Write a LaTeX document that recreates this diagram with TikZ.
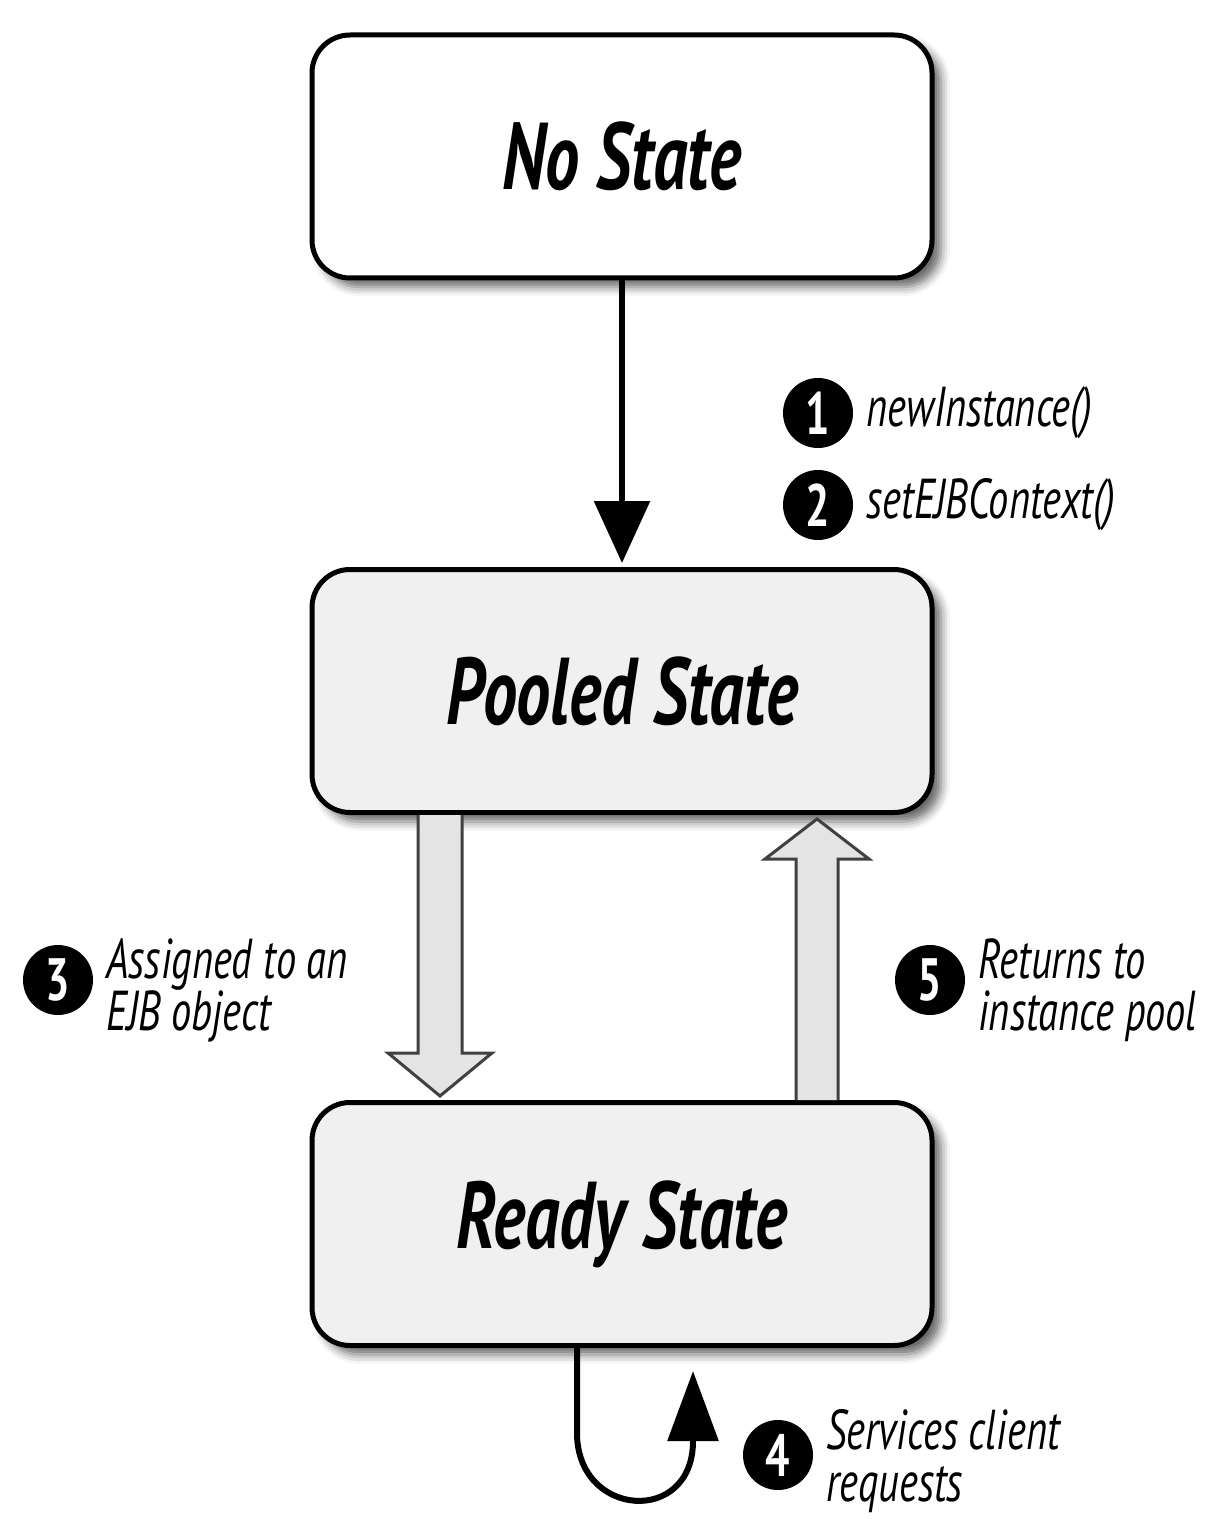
\documentclass[tikz,border=0pt]{standalone}
\usepackage{fontspec}
\newfontfamily\lblfont{PT Sans}[FakeStretch=0.72]
\usepackage{tikz}
\usetikzlibrary{calc}
\usetikzlibrary{positioning}
\usetikzlibrary{arrows.meta}
\usetikzlibrary{shadows.blur}

\tikzset{
  statebox/.style={draw, line width=0.05cm, rounded corners=0.38cm,
    minimum width=6.2cm, minimum height=2.43cm,
    font=\lblfont\bfseries\itshape\fontsize{27}{30}\selectfont,
    blur shadow={shadow xshift=0.09cm, shadow yshift=-0.09cm,
      shadow blur radius=0.09cm, shadow opacity=60}},
  numdot/.style={circle, fill=black, inner sep=0pt, minimum size=0.7cm,
    text=white, font=\lblfont\bfseries\fontsize{17}{17}\selectfont},
  note/.style={align=left, inner sep=0pt,
    font=\lblfont\itshape\fontsize{16}{14.8}\selectfont},
  bigline/.style={line width=0.06cm},
  hollow/.style={draw=black!75, line width=0.03cm, fill=gray!21, line join=miter}
}

\begin{document}
\begin{tikzpicture}
    \useasboundingbox (0,0) rectangle (12.05,-15.19);
    \node[statebox, fill=white] (nostate) at (6.22,-1.565) {No State};
    \node[statebox, fill=gray!12] (pooled) at (6.22,-6.91) {Pooled State};
    \node[statebox, fill=gray!12] (ready) at (6.22,-12.24) {Ready State};

    \draw[bigline, -{Triangle[width=0.55cm, length=0.62cm]}] (nostate.south) -- ([yshift=0.04cm]pooled.north);

    \coordinate (t3) at ($(pooled.south)+(-1.82,0)$);
    \coordinate (t5) at ($(ready.north)+(1.95,0)$);
    \draw[hollow] (t3) ++(-0.22,0) -- ++(0,-2.38) -- ++(-0.30,0) -- ++(0.52,-0.43)
      -- ++(0.52,0.43) -- ++(-0.30,0) -- ++(0,2.38);
    \draw[hollow] (t5) ++(-0.21,0) -- ++(0,2.41) -- ++(-0.31,0) -- ++(0.52,0.40)
      -- ++(0.52,-0.40) -- ++(-0.31,0) -- ++(0,-2.41);

    \coordinate (back) at ($(ready.south)+(0.71,-0.23)$);
    \draw[bigline, -{Triangle[width=0.5cm, length=0.7cm]}] ($(ready.south)+(-0.45,0)$) -- ++(0,-0.85)
      .. controls ++(0,-0.85) and ($(back)+(0,-1.55)$) .. ($(back)+(0,-0.7)$) -- (back);

    \node[numdot] (c1) at (8.18,-4.13) {1};
    \node[note, right=0.12cm of c1] (l1) {newInstance()};
    \node[numdot] (c2) at (8.18,-5.05) {2};
    \node[note, right=0.12cm of c2] (l2) {setEJBContext()};
    \node[numdot] (c3) at (0.58,-9.8) {3};
    \node[note, right=0.12cm of c3, yshift=-0.1cm] (l3) {Assigned to an\\EJB object};
    \node[numdot] (c5) at (9.30,-9.8) {5};
    \node[note, right=0.12cm of c5, yshift=-0.1cm] (l5) {Returns to\\instance pool};
    \node[numdot] (c4) at (7.78,-14.55) {4};
    \node[note, right=0.12cm of c4, yshift=-0.06cm] (l4) {Services client\\requests};
\end{tikzpicture}
\end{document}
